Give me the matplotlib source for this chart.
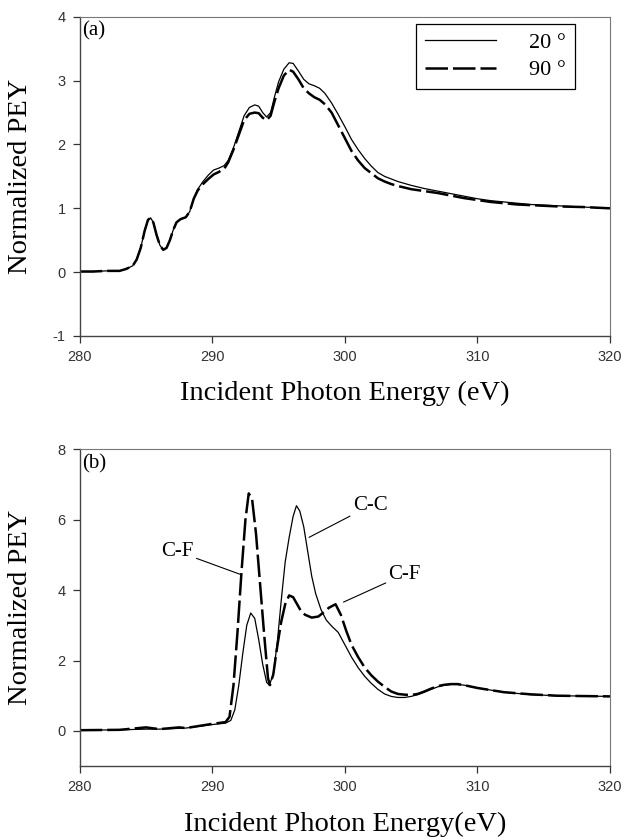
"""
PEY NEXAFS spectra (C K-edge) at 20 and 90 degree incidence, two panels.
"""

import numpy as np
import matplotlib
matplotlib.use("Agg")
import matplotlib.pyplot as plt

plt.rcParams["axes.unicode_minus"] = False

# ── data ───────────────────────────────────────────────────────────────────────

# (a) upper panel
energy_a = [280, 281, 282, 283, 283.5, 284, 284.3, 284.6, 284.9, 285.15, 285.35,
            285.55, 285.8, 286.05, 286.3, 286.55, 286.8, 287.05, 287.3, 287.6, 288,
            288.3, 288.6, 288.9, 289.3, 289.7, 290.1, 290.5, 290.9, 291.2, 291.6,
            292, 292.4, 292.8, 293.2, 293.5, 293.8, 294.1, 294.4, 294.7, 295,
            295.4, 295.8, 296.1, 296.5, 296.9, 297.3, 297.7, 298.1, 298.5, 299,
            299.5, 300, 300.5, 301, 301.5, 302, 302.5, 303, 303.5, 304, 305, 306,
            307, 308, 309, 310, 311, 312, 313, 314, 316, 318, 320]
pey_20_a = [0.01, 0.01, 0.02, 0.02, 0.05, 0.1, 0.2, 0.38, 0.65, 0.82, 0.85,
            0.78, 0.58, 0.42, 0.35, 0.38, 0.5, 0.66, 0.78, 0.83, 0.86,
            0.95, 1.15, 1.3, 1.42, 1.52, 1.6, 1.63, 1.67, 1.75, 1.95,
            2.2, 2.45, 2.58, 2.62, 2.6, 2.5, 2.43, 2.5, 2.75, 2.98,
            3.18, 3.28, 3.27, 3.15, 3.02, 2.95, 2.92, 2.88, 2.8, 2.65,
            2.47, 2.28, 2.08, 1.92, 1.78, 1.66, 1.56, 1.5, 1.46, 1.42, 1.36, 1.31,
            1.27, 1.23, 1.19, 1.15, 1.12, 1.1, 1.08, 1.06, 1.04, 1.02, 1.0]
pey_90_a = [0.01, 0.01, 0.02, 0.02, 0.05, 0.1, 0.2, 0.38, 0.65, 0.82, 0.85,
            0.78, 0.58, 0.42, 0.35, 0.38, 0.5, 0.66, 0.78, 0.83, 0.86,
            0.95, 1.15, 1.28, 1.38, 1.46, 1.53, 1.57, 1.62, 1.72, 1.92,
            2.15, 2.38, 2.48, 2.5, 2.49, 2.42, 2.38, 2.45, 2.68, 2.88,
            3.08, 3.17, 3.14, 3.02, 2.88, 2.8, 2.74, 2.7, 2.63, 2.5,
            2.3, 2.1, 1.9, 1.75, 1.63, 1.55, 1.47, 1.42, 1.38, 1.35, 1.3, 1.27,
            1.24, 1.2, 1.16, 1.13, 1.1, 1.08, 1.06, 1.05, 1.03, 1.02, 1.0]

# (b) lower panel, 20 degree
energy_20_b = [280, 283, 285, 286, 288, 290, 291, 291.4, 291.7, 292, 292.3, 292.6,
               292.9, 293.2, 293.5, 293.8, 294.1, 294.3, 294.6, 294.9, 295.2,
               295.5, 295.8, 296.1, 296.35, 296.6, 296.9, 297.2, 297.5, 297.8,
               298.2, 298.6, 299, 299.5, 300, 300.5, 301, 301.5, 302, 302.5, 303,
               303.5, 304, 304.5, 305, 305.5, 306, 306.5, 307, 307.5, 308, 308.5,
               309, 310, 312, 314, 316, 318, 320]
pey_20_b = [0.02, 0.03, 0.05, 0.05, 0.08, 0.18, 0.22, 0.3, 0.6, 1.3, 2.2, 3.0,
            3.35, 3.2, 2.6, 1.9, 1.38, 1.3, 1.6, 2.5, 3.7,
            4.8, 5.5, 6.1, 6.4, 6.25, 5.8, 5.1, 4.4, 3.9,
            3.45, 3.15, 2.98, 2.8, 2.45, 2.1, 1.8, 1.55, 1.35, 1.18, 1.05,
            0.98, 0.95, 0.95, 0.98, 1.03, 1.1, 1.18, 1.25, 1.3, 1.32, 1.32,
            1.3, 1.22, 1.1, 1.03, 1.0, 0.99, 0.98]

# (b) lower panel, 90 degree
energy_90_b = [280, 283, 285, 286, 287.5, 288, 290, 291, 291.3, 291.6, 291.9, 292.2,
               292.5, 292.75, 293, 293.3, 293.6, 293.9, 294.2, 294.35, 294.6,
               294.9, 295.2, 295.5, 295.8, 296.1, 296.4, 296.7, 297, 297.5, 298,
               298.5, 298.8, 299.3, 299.7, 300.1, 300.5, 301, 301.5, 302, 302.5,
               303, 303.5, 304, 304.5, 305, 305.5, 306, 306.5, 307, 307.5, 308,
               308.5, 309, 310, 312, 314, 316, 318, 320]
pey_90_b = [0.02, 0.03, 0.1, 0.05, 0.1, 0.08, 0.2, 0.25, 0.4, 1.3, 2.8, 4.5,
            6.0, 6.75, 6.6, 5.6, 4.2, 2.8, 1.5, 1.3, 1.6,
            2.4, 3.1, 3.6, 3.85, 3.8, 3.6, 3.4, 3.3, 3.22, 3.25,
            3.4, 3.5, 3.6, 3.3, 2.85, 2.45, 2.1, 1.8, 1.58, 1.4,
            1.25, 1.12, 1.05, 1.03, 1.02, 1.05, 1.12, 1.2, 1.27, 1.31, 1.33,
            1.33, 1.3, 1.22, 1.1, 1.04, 1.0, 0.99, 0.98]

labels = ["20 \u00b0", "90 \u00b0"]
xticks = [280, 290, 300, 310, 320]
yticks_a = [-1, 0, 1, 2, 3, 4]
yticks_b = [0, 2, 4, 6, 8]

SERIF = ["Liberation Serif", "DejaVu Serif"]
SANS = ["Liberation Sans", "DejaVu Sans"]


def style_axes(ax, yticks, ylim):
    ax.set_xlim(280, 320)
    ax.set_ylim(*ylim)
    ax.set_xticks(xticks)
    ax.set_yticks(yticks)
    ax.tick_params(direction="out", length=5, width=0.9, labelsize=10.5, pad=5,
                   colors="#333333")
    for lbl in ax.get_xticklabels() + ax.get_yticklabels():
        lbl.set_family(SANS)
    for side in ("left", "bottom"):
        ax.spines[side].set_color("#444444")
        ax.spines[side].set_linewidth(1.0)
    for side in ("top", "right"):
        ax.spines[side].set_color("#777777")
        ax.spines[side].set_linewidth(0.8)
    ax.set_ylabel("Normalized PEY", fontsize=20.5, family=SERIF)
    ax.yaxis.set_label_coords(-0.088, 0.5)


fig = plt.figure(figsize=(6.23, 8.4), dpi=100)
ax_a = fig.add_axes([0.128, 0.600, 0.851, 0.380])
ax_b = fig.add_axes([0.128, 0.088, 0.851, 0.377])

dash = (9, 2)

# ── (a) ──
ax_a.plot(energy_a, pey_20_a, color="black", lw=0.9, label=labels[0])
ax_a.plot(energy_a, pey_90_a, color="black", lw=1.8, dashes=dash, label=labels[1])
style_axes(ax_a, yticks_a, (-1, 4))
ax_a.set_xlabel("Incident Photon Energy (eV)", fontsize=20.5, family=SERIF)
ax_a.xaxis.set_label_coords(0.5, -0.14)
ax_a.text(0.005, 0.985, "(a)", transform=ax_a.transAxes, fontsize=15,
          family=SERIF, va="top", ha="left")
leg = ax_a.legend(loc="upper right", bbox_to_anchor=(0.934, 0.978), borderaxespad=0,
                  fancybox=False, framealpha=1, edgecolor="black", handlelength=3.2,
                  handletextpad=1.5, prop={"family": SERIF, "size": 16},
                  borderpad=0.4, labelspacing=0.3)
leg.get_frame().set_linewidth(0.9)

# ── (b) ──
ax_b.plot(energy_20_b, pey_20_b, color="black", lw=0.9)
ax_b.plot(energy_90_b, pey_90_b, color="black", lw=1.8, dashes=dash)
style_axes(ax_b, yticks_b, (-1, 8))
ax_b.set_xlabel("Incident Photon Energy(eV)", fontsize=20.5, family=SERIF)
ax_b.xaxis.set_label_coords(0.5, -0.145)
ax_b.text(0.005, 0.985, "(b)", transform=ax_b.transAxes, fontsize=15,
          family=SERIF, va="top", ha="left")

arrow = dict(arrowstyle="-", color="black", lw=0.8, shrinkA=0, shrinkB=0)
ax_b.annotate("C-F", xy=(292.1, 4.45), xytext=(288.6, 5.1), fontsize=15,
              family=SERIF, ha="right", va="center", arrowprops=arrow)
ax_b.annotate("C-C", xy=(297.3, 5.5), xytext=(300.6, 6.4), fontsize=15,
              family=SERIF, ha="left", va="center", arrowprops=arrow)
ax_b.annotate("C-F", xy=(299.9, 3.66), xytext=(303.3, 4.45), fontsize=15,
              family=SERIF, ha="left", va="center", arrowprops=arrow)

fig.savefig("out.png", dpi=100)
